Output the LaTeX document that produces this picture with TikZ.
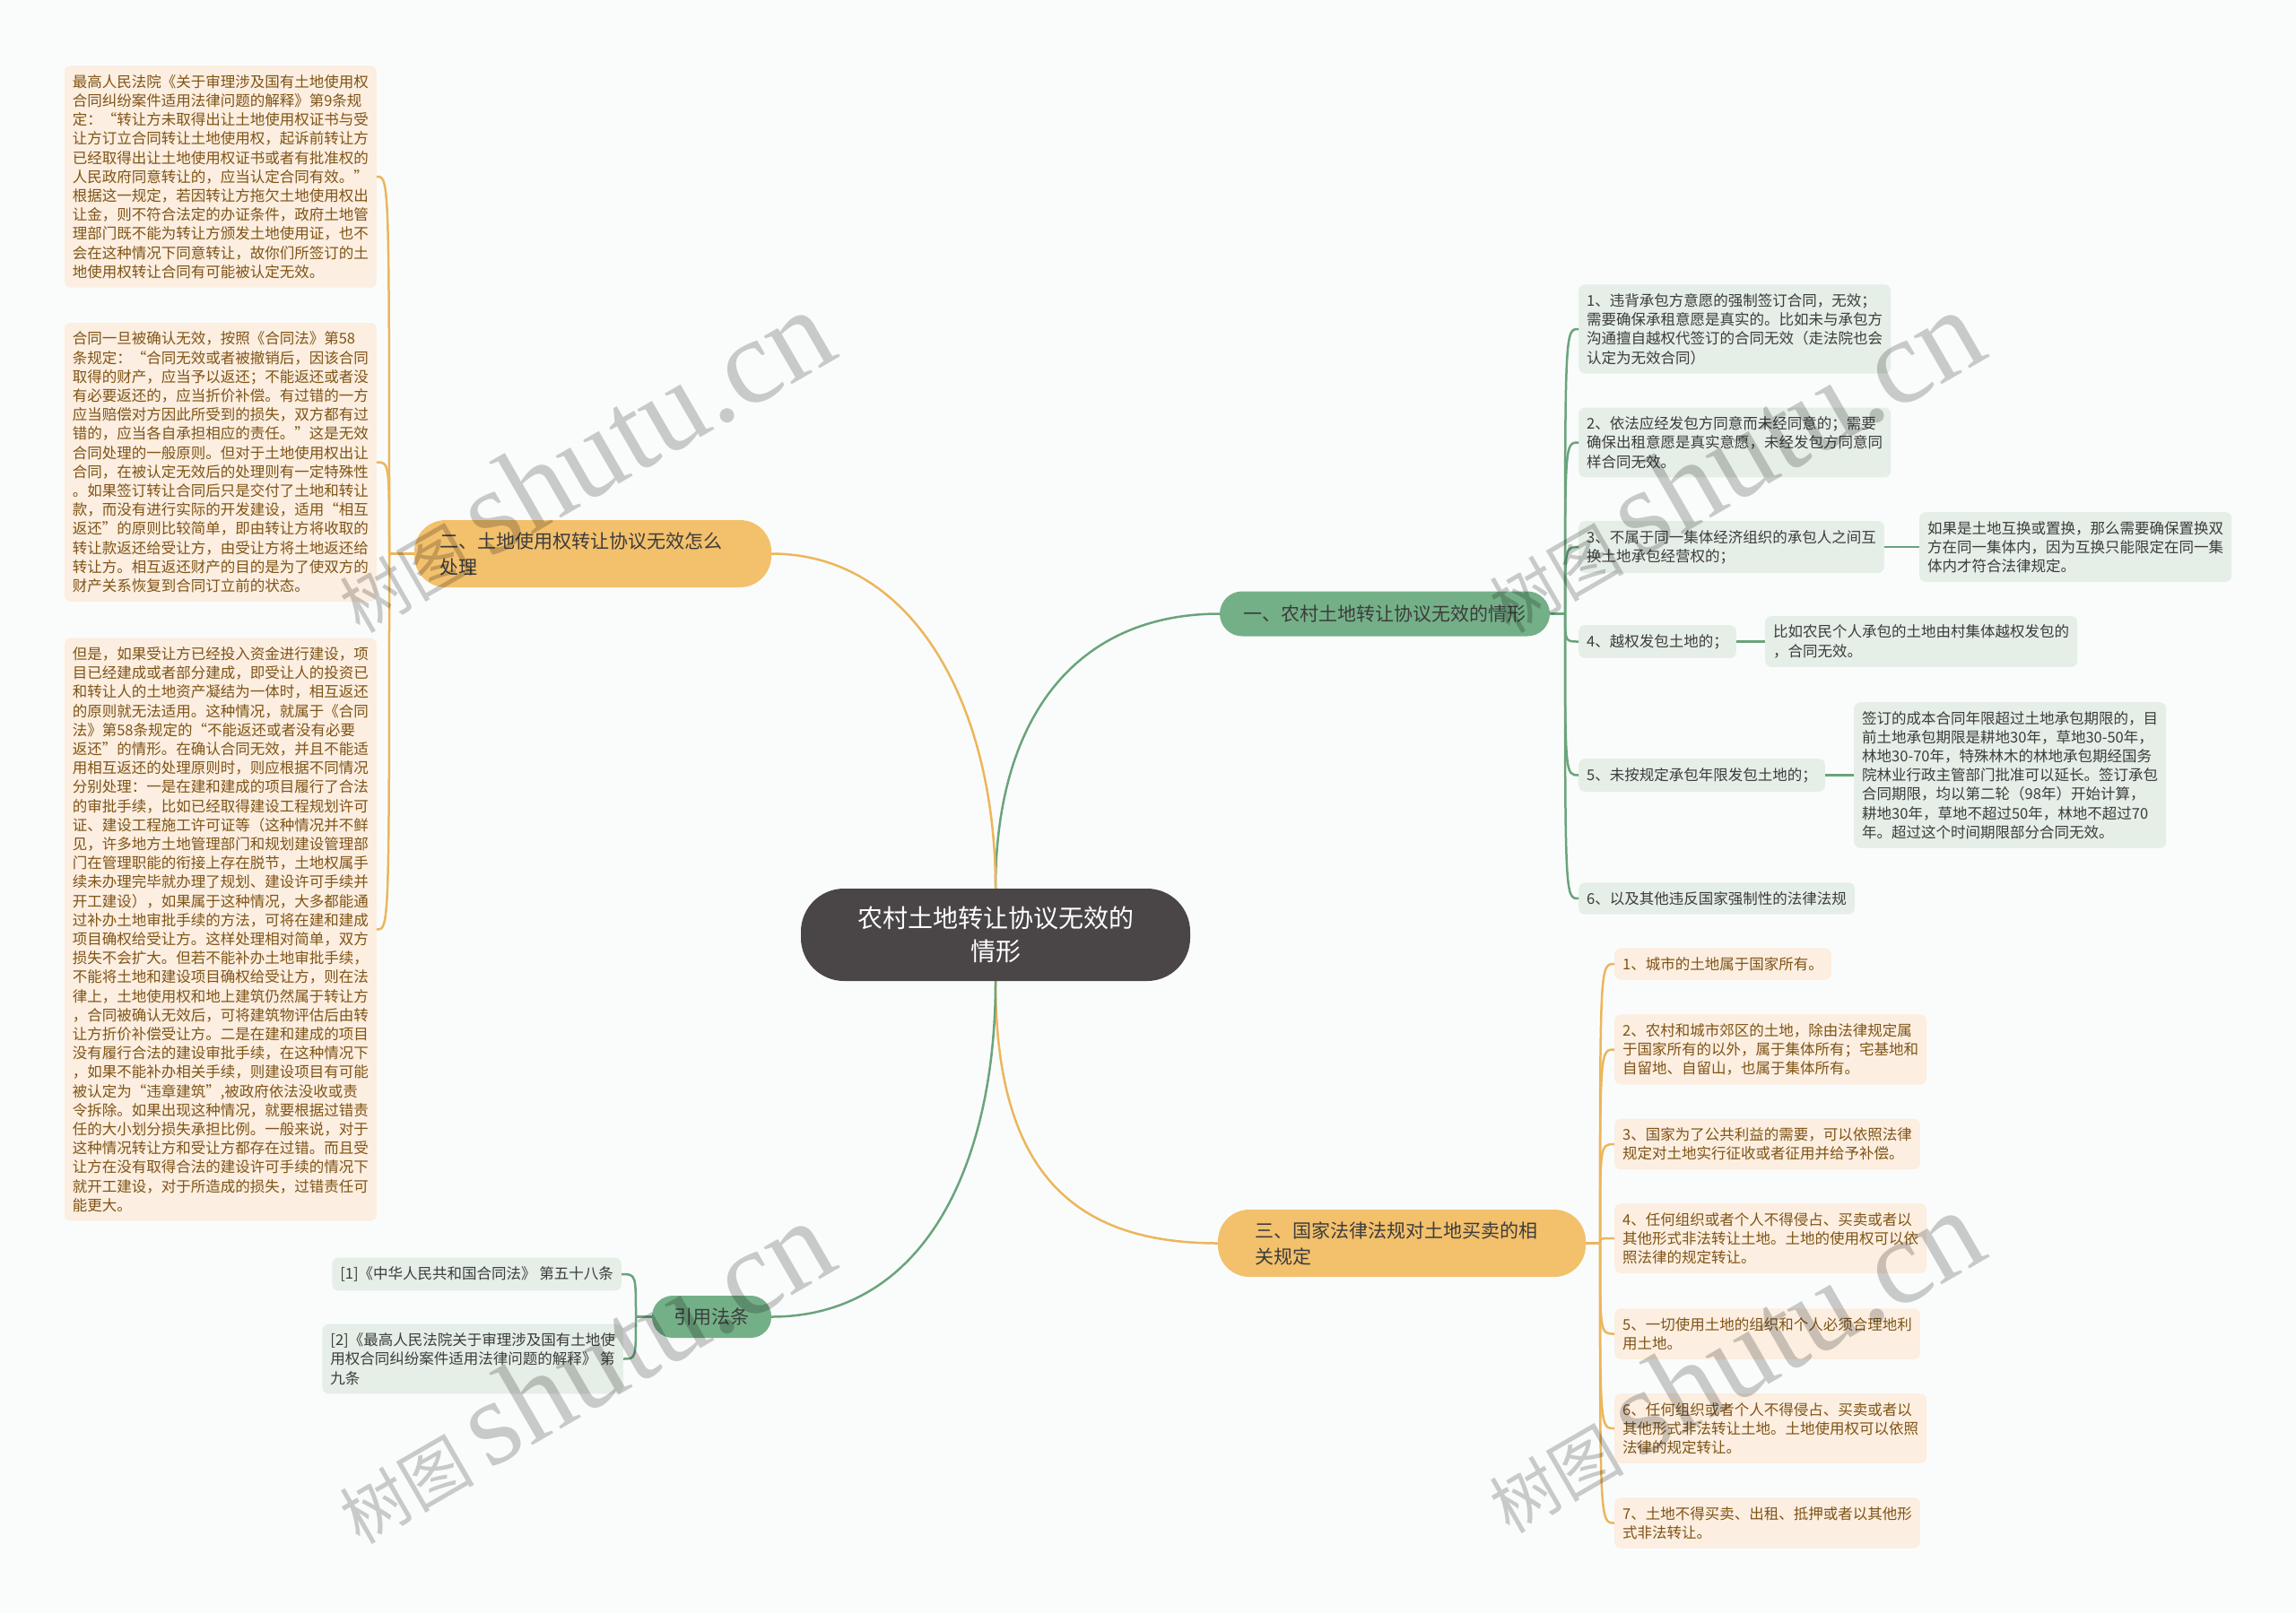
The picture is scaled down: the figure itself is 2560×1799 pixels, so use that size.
\documentclass[tikz,border=0pt]{standalone}
\usepackage{fontspec}
\setmainfont{Noto Sans CJK SC}
\newfontfamily\wmserif{Liberation Serif}
\definecolor{bg}{HTML}{FAFCFC}
\definecolor{gline}{HTML}{6AA47B}
\definecolor{gbranch}{HTML}{74B087}
\definecolor{gleaf}{HTML}{E5EEE7}
\definecolor{gtext}{HTML}{3C3C3C}
\definecolor{oline}{HTML}{ECB65B}
\definecolor{obranch}{HTML}{F3C06C}
\definecolor{oleaf}{HTML}{FCEEE0}
\definecolor{otext}{HTML}{7F5416}
\definecolor{cfill}{HTML}{4A4546}
\tikzset{
 leafbase/.style={rounded corners=7bp, inner xsep=9bp, inner ysep=10bp, align=left, font=\fontsize{16.5bp}{21.2bp}\selectfont},
 gleafbox/.style={leafbase, fill=gleaf, text=gtext},
 oleafbox/.style={leafbase, fill=oleaf, text=otext},
 branchbase/.style={font=\fontsize{21bp}{29bp}\selectfont, text=gtext, align=left},
 gbranchbox/.style={branchbase, fill=gbranch},
 obranchbox/.style={branchbase, fill=obranch},
 gl/.style={draw=gline, line width=2.5bp},
 ol/.style={draw=oline, line width=2.5bp},
 wm/.style={rotate=30, text=black, text opacity=0.2}
}
\begin{document}
\begin{tikzpicture}[x=1bp,y=-1bp]
\fill[bg] (0,0) rectangle (2560,1799);
\useasboundingbox (0,0) rectangle (2560,1799);

% center
\node[fill=cfill, text=white, rounded corners=48bp, minimum width=434bp, minimum height=103bp, align=center, font=\fontsize{28bp}{37bp}\selectfont] (c) at (1110,1042.5) {农村土地转让协议无效的\\情形};

% branches
\node[gbranchbox, minimum width=368bp, minimum height=50bp, rounded corners=25bp, align=center] (b1) at (1544,684.5) {一、农村土地转让协议无效的情形};
\node[obranchbox, text width=342bp, inner xsep=28bp, minimum height=75bp, rounded corners=35bp] (b2) at (661,617.5) {二、土地使用权转让协议无效怎么\\处理};
\node[obranchbox, text width=328bp, inner xsep=41bp, minimum height=75bp, rounded corners=35bp] (b3) at (1563,1386.5) {三、国家法律法规对土地买卖的相\\关规定};
\node[gbranchbox, minimum width=133bp, minimum height=47bp, rounded corners=23bp, align=center] (b4) at (793.5,1468.5) {引用法条};

% branch 1 leaves
\node[gleafbox, anchor=west] (g1) at (1760,367) {1、违背承包方意愿的强制签订合同，无效；\\需要确保承租意愿是真实的。比如未与承包方\\沟通擅自越权代签订的合同无效（走法院也会\\认定为无效合同）};
\node[gleafbox, anchor=west] (g2) at (1760,493.5) {2、依法应经发包方同意而未经同意的；需要\\确保出租意愿是真实意愿，未经发包方同意同\\样合同无效。};
\node[gleafbox, anchor=west] (g3) at (1760,610) {3、不属于同一集体经济组织的承包人之间互\\换土地承包经营权的；};
\node[gleafbox, anchor=west] (g3c) at (2140,610) {如果是土地互换或置换，那么需要确保置换双\\方在同一集体内，因为互换只能限定在同一集\\体内才符合法律规定。};
\node[gleafbox, anchor=west] (g4) at (1760,715.5) {4、越权发包土地的；};
\node[gleafbox, anchor=west] (g4c) at (1968,715.5) {比如农民个人承包的土地由村集体越权发包的\\，合同无效。};
\node[gleafbox, anchor=west] (g5) at (1760,864.5) {5、未按规定承包年限发包土地的；};
\node[gleafbox, anchor=west] (g5c) at (2067,864.5) {签订的成本合同年限超过土地承包期限的，目\\前土地承包期限是耕地30年，草地30-50年，\\林地30-70年，特殊林木的林地承包期经国务\\院林业行政主管部门批准可以延长。签订承包\\合同期限，均以第二轮（98年）开始计算，\\耕地30年，草地不超过50年，林地不超过70\\年。超过这个时间期限部分合同无效。};
\node[gleafbox, anchor=west] (g6) at (1760,1002) {6、以及其他违反国家强制性的法律法规};

% branch 2 leaves
\node[oleafbox, anchor=east] (l1) at (420,197) {最高人民法院《关于审理涉及国有土地使用权\\合同纠纷案件适用法律问题的解释》第9条规\\定：“转让方未取得出让土地使用权证书与受\\让方订立合同转让土地使用权，起诉前转让方\\已经取得出让土地使用权证书或者有批准权的\\人民政府同意转让的，应当认定合同有效。”\\根据这一规定，若因转让方拖欠土地使用权出\\让金，则不符合法定的办证条件，政府土地管\\理部门既不能为转让方颁发土地使用证，也不\\会在这种情况下同意转让，故你们所签订的土\\地使用权转让合同有可能被认定无效。};
\node[oleafbox, anchor=east] (l2) at (420,515.5) {合同一旦被确认无效，按照《合同法》第58\\条规定：“合同无效或者被撤销后，因该合同\\取得的财产，应当予以返还；不能返还或者没\\有必要返还的，应当折价补偿。有过错的一方\\应当赔偿对方因此所受到的损失，双方都有过\\错的，应当各自承担相应的责任。”这是无效\\合同处理的一般原则。但对于土地使用权出让\\合同，在被认定无效后的处理则有一定特殊性\\。如果签订转让合同后只是交付了土地和转让\\款，而没有进行实际的开发建设，适用“相互\\返还”的原则比较简单，即由转让方将收取的\\转让款返还给受让方，由受让方将土地返还给\\转让方。相互返还财产的目的是为了使双方的\\财产关系恢复到合同订立前的状态。};
\node[oleafbox, anchor=east] (l3) at (420,1036.5) {但是，如果受让方已经投入资金进行建设，项\\目已经建成或者部分建成，即受让人的投资已\\和转让人的土地资产凝结为一体时，相互返还\\的原则就无法适用。这种情况，就属于《合同\\法》第58条规定的“不能返还或者没有必要\\返还”的情形。在确认合同无效，并且不能适\\用相互返还的处理原则时，则应根据不同情况\\分别处理：一是在建和建成的项目履行了合法\\的审批手续，比如已经取得建设工程规划许可\\证、建设工程施工许可证等（这种情况并不鲜\\见，许多地方土地管理部门和规划建设管理部\\门在管理职能的衔接上存在脱节，土地权属手\\续未办理完毕就办理了规划、建设许可手续并\\开工建设），如果属于这种情况，大多都能通\\过补办土地审批手续的方法，可将在建和建成\\项目确权给受让方。这样处理相对简单，双方\\损失不会扩大。但若不能补办土地审批手续，\\不能将土地和建设项目确权给受让方，则在法\\律上，土地使用权和地上建筑仍然属于转让方\\，合同被确认无效后，可将建筑物评估后由转\\让方折价补偿受让方。二是在建和建成的项目\\没有履行合法的建设审批手续，在这种情况下\\，如果不能补办相关手续，则建设项目有可能\\被认定为“违章建筑”,被政府依法没收或责\\令拆除。如果出现这种情况，就要根据过错责\\任的大小划分损失承担比例。一般来说，对于\\这种情况转让方和受让方都存在过错。而且受\\让方在没有取得合法的建设许可手续的情况下\\就开工建设，对于所造成的损失，过错责任可\\能更大。};

% branch 3 leaves
\node[oleafbox, anchor=west] (r1) at (1800,1075) {1、城市的土地属于国家所有。};
\node[oleafbox, anchor=west] (r2) at (1800,1170.5) {2、农村和城市郊区的土地，除由法律规定属\\于国家所有的以外，属于集体所有；宅基地和\\自留地、自留山，也属于集体所有。};
\node[oleafbox, anchor=west] (r3) at (1800,1276) {3、国家为了公共利益的需要，可以依照法律\\规定对土地实行征收或者征用并给予补偿。};
\node[oleafbox, anchor=west] (r4) at (1800,1381) {4、任何组织或者个人不得侵占、买卖或者以\\其他形式非法转让土地。土地的使用权可以依\\照法律的规定转让。};
\node[oleafbox, anchor=west] (r5) at (1800,1487.5) {5、一切使用土地的组织和个人必须合理地利\\用土地。};
\node[oleafbox, anchor=west] (r6) at (1800,1593) {6、任何组织或者个人不得侵占、买卖或者以\\其他形式非法转让土地。土地使用权可以依照\\法律的规定转让。};
\node[oleafbox, anchor=west] (r7) at (1800,1698.5) {7、土地不得买卖、出租、抵押或者以其他形\\式非法转让。};

% citation leaves
\node[gleafbox, anchor=east] (k1) at (693,1421) {[1]《中华人民共和国合同法》 第五十八条};
\node[gleafbox, anchor=east] (k2) at (695,1515.5) {[2]《最高人民法院关于审理涉及国有土地使\\用权合同纠纷案件适用法律问题的解释》 第\\九条};

% main connectors
\draw[gl] (c.north) .. controls (1110,800) and (1200,684.5) .. (b1.west);
\draw[ol] (c.north) .. controls (1110,790) and (1020,617.5) .. (b2.east);
\draw[ol] (c.south) .. controls (1110,1300) and (1190,1386.5) .. (b3.west);
\draw[gl] (c.south) .. controls (1110,1300) and (1030,1468.5) .. (b4.east);

% spines
\coordinate (s1) at (1745,684.5);
\coordinate (s2) at (434,617.5);
\coordinate (s3) at (1784,1386.5);
\coordinate (s4) at (709,1468.5);

\draw[gl] (b1.east) -- (s1);
\foreach \n in {g1,g2,g3,g4,g5,g6}
  \draw[gl] (s1) .. controls (s1 |- \n.west) .. (\n.west);
\draw[gl] (g3.east) -- (g3c.west);
\draw[gl] (g4.east) -- (g4c.west);
\draw[gl] (g5.east) -- (g5c.west);

\draw[ol] (b2.west) -- (s2);
\foreach \n in {l1,l2,l3}
  \draw[ol] (s2) .. controls (s2 |- \n.east) .. (\n.east);

\draw[ol] (b3.east) -- (s3);
\foreach \n in {r1,r2,r3,r4,r5,r6,r7}
  \draw[ol] (s3) .. controls (s3 |- \n.west) .. (\n.west);

\draw[gl] (b4.west) -- (s4);
\foreach \n in {k1,k2}
  \draw[gl] (s4) .. controls (s4 |- \n.east) .. (\n.east);

% watermarks
\node[wm] (w1) at (648,514) {\fontsize{75bp}{80bp}\selectfont 树图 {\wmserif\fontsize{135bp}{140bp}\selectfont shutu.cn}};
\node[wm] (w2) at (1930,514) {\fontsize{75bp}{80bp}\selectfont 树图 {\wmserif\fontsize{135bp}{140bp}\selectfont shutu.cn}};
\node[wm] (w3) at (648,1530) {\fontsize{75bp}{80bp}\selectfont 树图 {\wmserif\fontsize{135bp}{140bp}\selectfont shutu.cn}};
\node[wm] (w4) at (1930,1518) {\fontsize{75bp}{80bp}\selectfont 树图 {\wmserif\fontsize{135bp}{140bp}\selectfont shutu.cn}};
\end{tikzpicture}
\end{document}
